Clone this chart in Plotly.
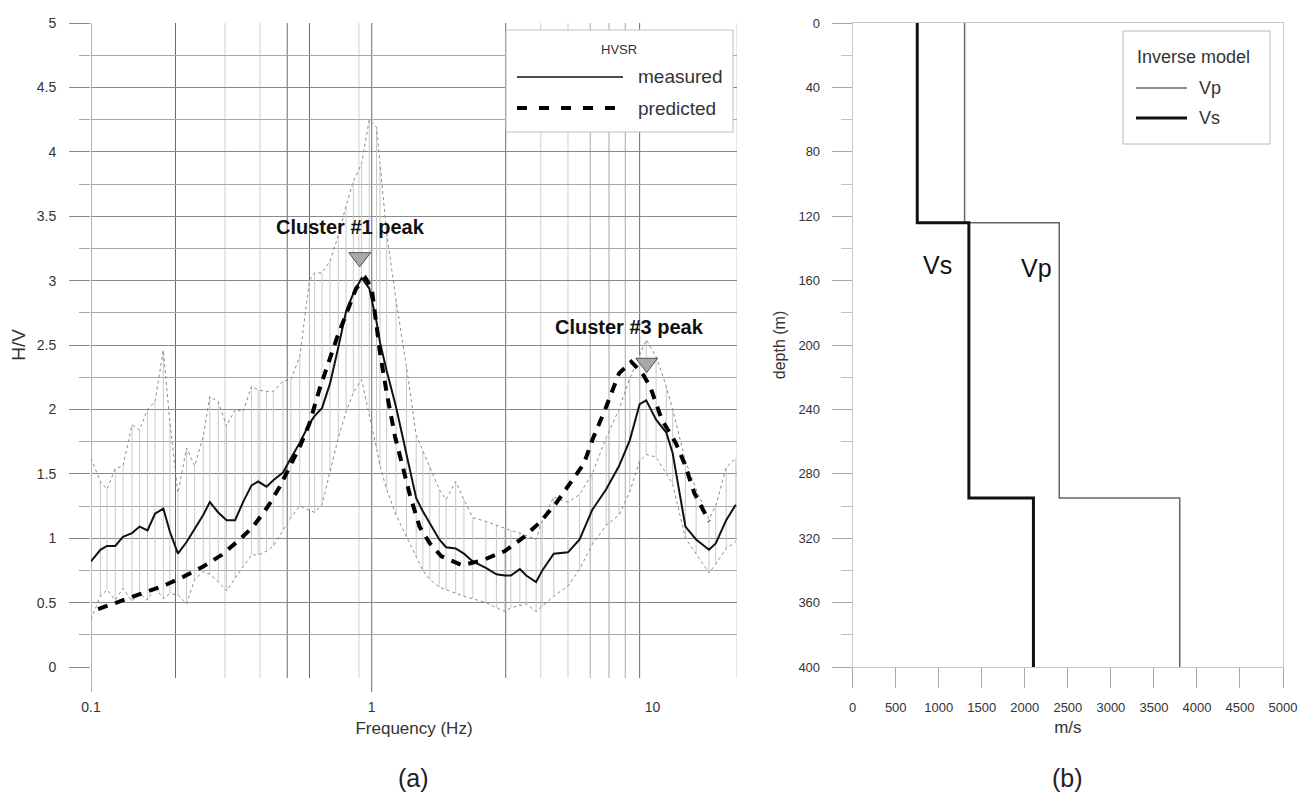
import math
import plotly.graph_objects as go

# ---------------- data ----------------
freq = [0.100, 0.108, 0.114, 0.122, 0.130, 0.140, 0.149, 0.159, 0.169, 0.181,
        0.191, 0.204, 0.219, 0.234, 0.251, 0.265, 0.284, 0.304, 0.326, 0.348,
        0.373, 0.394, 0.422, 0.446, 0.483, 0.515, 0.554, 0.600, 0.626, 0.665,
        0.710, 0.760, 0.810, 0.860, 0.920, 0.980, 1.040, 1.070, 1.130, 1.220,
        1.330, 1.440, 1.520, 1.610, 1.740, 1.840, 1.990, 2.130, 2.290, 2.550,
        2.780, 2.980, 3.130, 3.370, 3.550, 3.850, 4.050, 4.450, 5.000, 5.500,
        6.100, 6.840, 7.600, 8.300, 9.000, 9.500, 10.30, 11.20, 11.80, 13.10,
        14.30, 15.90, 16.80, 18.30, 19.80]
hv_measured = [0.82, 0.91, 0.94, 0.94, 1.01, 1.04, 1.09, 1.06, 1.19, 1.23,
               1.05, 0.88, 0.97, 1.07, 1.18, 1.28, 1.20, 1.14, 1.14, 1.28,
               1.41, 1.44, 1.40, 1.45, 1.51, 1.62, 1.74, 1.89, 1.95, 2.01,
               2.20, 2.48, 2.76, 2.90, 3.02, 2.94, 2.68, 2.52, 2.30, 2.02,
               1.65, 1.31, 1.21, 1.12, 0.99, 0.93, 0.92, 0.88, 0.82, 0.77,
               0.72, 0.71, 0.71, 0.76, 0.71, 0.66, 0.75, 0.88, 0.89, 0.99,
               1.22, 1.38, 1.56, 1.76, 2.04, 2.07, 1.92, 1.82, 1.66, 1.09,
               0.99, 0.91, 0.96, 1.14, 1.26]
hv_upper = [1.62, 1.44, 1.38, 1.54, 1.56, 1.88, 1.84, 2.00, 2.06, 2.46,
            1.90, 1.35, 1.70, 1.56, 1.79, 2.10, 2.06, 1.87, 2.00, 1.98,
            2.18, 2.15, 2.14, 2.14, 2.22, 2.23, 2.41, 3.00, 3.06, 3.06,
            3.15, 3.35, 3.58, 3.77, 3.91, 4.25, 4.19, 3.90, 3.37, 2.85,
            2.33, 1.80, 1.68, 1.56, 1.38, 1.30, 1.44, 1.30, 1.16, 1.13,
            1.10, 1.08, 1.06, 1.04, 1.02, 0.99, 1.14, 1.32, 1.28, 1.34,
            1.50, 1.78, 2.00, 2.24, 2.42, 2.54, 2.41, 2.18, 2.00, 1.60,
            1.38, 1.15, 1.25, 1.55, 1.62]
hv_lower = [0.37, 0.55, 0.60, 0.52, 0.61, 0.51, 0.57, 0.52, 0.62, 0.53,
            0.57, 0.56, 0.49, 0.68, 0.74, 0.72, 0.66, 0.59, 0.69, 0.78,
            0.87, 0.87, 0.90, 0.94, 1.06, 1.16, 1.25, 1.22, 1.20, 1.26,
            1.52, 1.78, 1.98, 2.13, 2.23, 1.97, 1.70, 1.56, 1.38, 1.18,
            1.01, 0.86, 0.75, 0.68, 0.62, 0.60, 0.57, 0.55, 0.53, 0.50,
            0.46, 0.43, 0.46, 0.48, 0.49, 0.43, 0.47, 0.55, 0.63, 0.76,
            0.95, 1.10, 1.18, 1.36, 1.60, 1.65, 1.63, 1.50, 1.42, 1.00,
            0.88, 0.73, 0.80, 0.92, 0.97]

pred_freq = [0.106, 0.127, 0.153, 0.181, 0.213, 0.251, 0.292, 0.339, 0.378, 0.428,
             0.470, 0.510, 0.554, 0.600, 0.650, 0.750, 0.840, 0.880, 0.950, 1.000,
             1.040, 1.070, 1.130, 1.210, 1.270, 1.370, 1.480, 1.610, 1.770, 2.100,
             2.490, 2.980, 3.440, 3.960, 4.530, 5.200, 5.700, 6.100, 6.840, 7.600,
             8.400, 9.200, 9.800, 10.80, 12.10, 13.00, 14.10, 15.90]
hv_predicted = [0.45, 0.51, 0.57, 0.63, 0.70, 0.78, 0.87, 0.99, 1.09, 1.25,
                1.40, 1.56, 1.71, 1.89, 2.15, 2.55, 2.83, 2.94, 3.02, 2.94,
                2.65, 2.44, 2.13, 1.79, 1.61, 1.33, 1.09, 0.96, 0.86, 0.79,
                0.83, 0.90, 1.00, 1.12, 1.27, 1.45, 1.58, 1.76, 2.02, 2.28,
                2.37, 2.28, 2.18, 1.92, 1.74, 1.58, 1.35, 1.13]

peak_labels = ["Cluster #1 peak", "Cluster #3 peak"]
peak_freq = [0.906, 9.54]
peak_hv = [3.18, 2.36]
peak_label_freq = [0.842, 8.26]
peak_label_hv = [3.42, 2.64]

x_tick_vals = [0.1, 1, 10]
x_tick_text = ["0.1", "1", "10"]

layer_depth = [0, 124, 295, 400]
vp_layers = [1300, 2400, 3800]
vs_layers = [750, 1350, 2100]

# ---------------- layout helpers ----------------
# the page body keeps an 8px margin, so the figure is placed at (8, 8)
OFF = 8
W, H = 1311 - 2 * OFF, 804 - 2 * OFF
def px(x):
    return (x - OFF) / W
def py(y):
    return 1 - (y - OFF) / H

LX = [px(91), px(737)]
RX = [px(852.7), px(1283)]
YD = [py(667), py(23)]
FONT = "Liberation Sans, Arial, sans-serif"

fig = go.Figure()

# error bars (vertical lines between lower and upper bound)
fig.add_trace(go.Scatter(
    x=freq, y=hv_measured, mode="markers",
    marker=dict(size=1, color="rgba(0,0,0,0)"),
    error_y=dict(type="data", symmetric=False,
                 array=[u - m for u, m in zip(hv_upper, hv_measured)],
                 arrayminus=[m - l for m, l in zip(hv_measured, hv_lower)],
                 width=0, color="#c8c8c8", thickness=1),
    showlegend=False, hoverinfo="skip", xaxis="x", yaxis="y"))
for arr in (hv_upper, hv_lower):
    fig.add_trace(go.Scatter(x=freq, y=arr, mode="lines",
                             line=dict(color="#8c8c8c", width=1, dash="dot"),
                             showlegend=False, xaxis="x", yaxis="y"))
fig.add_trace(go.Scatter(x=freq, y=hv_measured, mode="lines", name="measured",
                         line=dict(color="#111111", width=2),
                         showlegend=False, xaxis="x", yaxis="y"))
fig.add_trace(go.Scatter(x=pred_freq, y=hv_predicted, mode="lines", name="predicted",
                         line=dict(color="#000000", width=4, dash="10px,8px"),
                         showlegend=False, xaxis="x", yaxis="y"))
fig.add_trace(go.Scatter(x=peak_freq, y=peak_hv, mode="markers",
                         marker=dict(symbol="triangle-down", size=19, color="#a8a8a8",
                                     line=dict(color="#555555", width=1)),
                         showlegend=False, xaxis="x", yaxis="y"))

# velocity model (step profiles)
def step(vals, depths):
    xs, ys = [], []
    for i, v in enumerate(vals):
        xs += [v, v]
        ys += [depths[i], depths[i + 1]]
    return xs, ys

vpx, vpy = step(vp_layers, layer_depth)
vsx, vsy = step(vs_layers, layer_depth)
fig.add_trace(go.Scatter(x=vpx, y=vpy, mode="lines", name="Vp",
                         line=dict(color="#666666", width=1.5),
                         showlegend=False, xaxis="x2", yaxis="y2"))
fig.add_trace(go.Scatter(x=vsx, y=vsy, mode="lines", name="Vs",
                         line=dict(color="#111111", width=3),
                         showlegend=False, xaxis="x2", yaxis="y2"))

# ---------------- gridlines of panel (a) ----------------
shapes = []
grid_dark = [0.1, 0.2, 0.5, 0.6, 1, 3, 9]
grid_mid = [6, 7, 8]
grid_light = [0.3, 0.4, 0.9, 4, 5, 20]
long_ticks = [0.1, 1]
for group, col in ((grid_light, "#cfcfcf"), (grid_mid, "#a8a8a8"), (grid_dark, "#6a6a6a")):
    for f in group:
        ext = 25 if f in long_ticks else 11
        shapes.append(dict(type="line", xref="x", yref="y domain", x0=f, x1=f,
                           y0=-ext / 644, y1=1, layer="below",
                           line=dict(color=col, width=1)))

# legend boxes
shapes.append(dict(type="rect", xref="paper", yref="paper",
                   x0=px(506), x1=px(733), y0=py(132), y1=py(30),
                   fillcolor="white", line=dict(color="#c0c0c0", width=1), layer="above"))
shapes.append(dict(type="line", xref="paper", yref="paper",
                   x0=px(517), x1=px(623), y0=py(77), y1=py(77),
                   line=dict(color="#111111", width=1.5), layer="above"))
shapes.append(dict(type="line", xref="paper", yref="paper",
                   x0=px(517), x1=px(623), y0=py(108), y1=py(108),
                   line=dict(color="#000000", width=4, dash="10px,12px"), layer="above"))
shapes.append(dict(type="rect", xref="paper", yref="paper",
                   x0=px(1123), x1=px(1270), y0=py(144), y1=py(31),
                   fillcolor="white", line=dict(color="#b8b8b8", width=1), layer="above"))
shapes.append(dict(type="line", xref="paper", yref="paper",
                   x0=px(1136), x1=px(1187), y0=py(88), y1=py(88),
                   line=dict(color="#666666", width=1.5), layer="above"))
shapes.append(dict(type="line", xref="paper", yref="paper",
                   x0=px(1136), x1=px(1187), y0=py(118), y1=py(118),
                   line=dict(color="#111111", width=3), layer="above"))

def note(text, x, y, size, xanchor="center", color="#333333"):
    return dict(text=text, x=px(x), y=py(y), xref="paper", yref="paper",
                showarrow=False, xanchor=xanchor, yanchor="middle",
                font=dict(family=FONT, size=size, color=color))

annotations = []
for lab, f, h in zip(peak_labels, peak_label_freq, peak_label_hv):
    annotations.append(dict(text="<b>" + lab + "</b>", x=math.log10(f), y=h,
                            xref="x", yref="y", showarrow=False,
                            xanchor="center", yanchor="middle",
                            font=dict(family=FONT, size=20, color="#111111")))
annotations += [
    note("HVSR", 619, 50, 13),
    note("measured", 636, 77, 19, "left"),
    note("predicted", 636, 108, 19, "left"),
    note("Inverse model", 1135, 57, 18, "left"),
    note("Vp", 1197, 88, 18, "left"),
    note("Vs", 1197, 118, 18, "left"),
    dict(text="Vs", x=980, y=150, xref="x2", yref="y2", showarrow=False,
         xanchor="center", yanchor="middle",
         font=dict(family=FONT, size=25, color="#111111")),
    dict(text="Vp", x=2140, y=152, xref="x2", yref="y2", showarrow=False,
         xanchor="center", yanchor="middle",
         font=dict(family=FONT, size=25, color="#111111")),
    note("(a)", 413, 778, 25, color="#222222"),
    note("(b)", 1067, 778, 25, color="#222222"),
]

tickfont = dict(family=FONT, size=14, color="#333333")
fig.update_layout(
    width=W, height=H, autosize=False,
    margin=dict(l=0, r=0, t=0, b=0),
    paper_bgcolor="white", plot_bgcolor="white",
    showlegend=False,
    shapes=shapes, annotations=annotations,
    xaxis=dict(domain=LX, type="log", range=[-1, math.log10(20)],
               tickmode="array", tickvals=x_tick_vals, ticktext=x_tick_text,
               ticks="", showgrid=False, zeroline=False, showline=False,
               ticklabelstandoff=30, tickfont=tickfont,
               title=dict(text="Frequency (Hz)", standoff=8,
                          font=dict(family=FONT, size=17, color="#333333")),
               anchor="y", automargin=False),
    yaxis=dict(domain=YD, range=[0, 5], tickmode="linear", tick0=0, dtick=0.5,
               ticks="outside", ticklen=21, tickcolor="#8a8a8a", tickwidth=1,
               showgrid=True, gridcolor="#8a8a8a", gridwidth=1,
               minor=dict(dtick=0.25, tick0=0, showgrid=True, gridcolor="#a8a8a8",
                          ticks="outside", ticklen=11, tickcolor="#a8a8a8"),
               zeroline=False, showline=False, tickfont=tickfont,
               ticklabelstandoff=10,
               title=dict(text="H/V", standoff=14,
                          font=dict(family=FONT, size=19, color="#333333")),
               anchor="x", automargin=False),
    xaxis2=dict(domain=RX, range=[0, 5000], tickmode="linear", tick0=0, dtick=500,
                ticks="outside", ticklen=20, tickcolor="#a8a8a8",
                showgrid=False, zeroline=False, showline=True, mirror=True,
                linecolor="#c8c8c8", linewidth=1,
                tickfont=dict(family=FONT, size=13, color="#333333"),
                ticklabelstandoff=8,
                title=dict(text="m/s", standoff=7,
                           font=dict(family=FONT, size=17, color="#333333")),
                anchor="y2", automargin=False),
    yaxis2=dict(domain=YD, range=[400, 0], tickmode="linear", tick0=0, dtick=40,
                ticks="outside", ticklen=20, tickcolor="#a8a8a8",
                minor=dict(dtick=20, tick0=0, ticks="outside", ticklen=11,
                           tickcolor="#c0c0c0", showgrid=False),
                showgrid=False, zeroline=False, showline=True, mirror=True,
                linecolor="#c8c8c8", linewidth=1,
                tickfont=dict(family=FONT, size=13, color="#333333"),
                ticklabelstandoff=9,
                title=dict(text="depth (m)", standoff=8,
                           font=dict(family=FONT, size=16, color="#333333")),
                anchor="x2", automargin=False),
)

fig.write_html("out.html")
